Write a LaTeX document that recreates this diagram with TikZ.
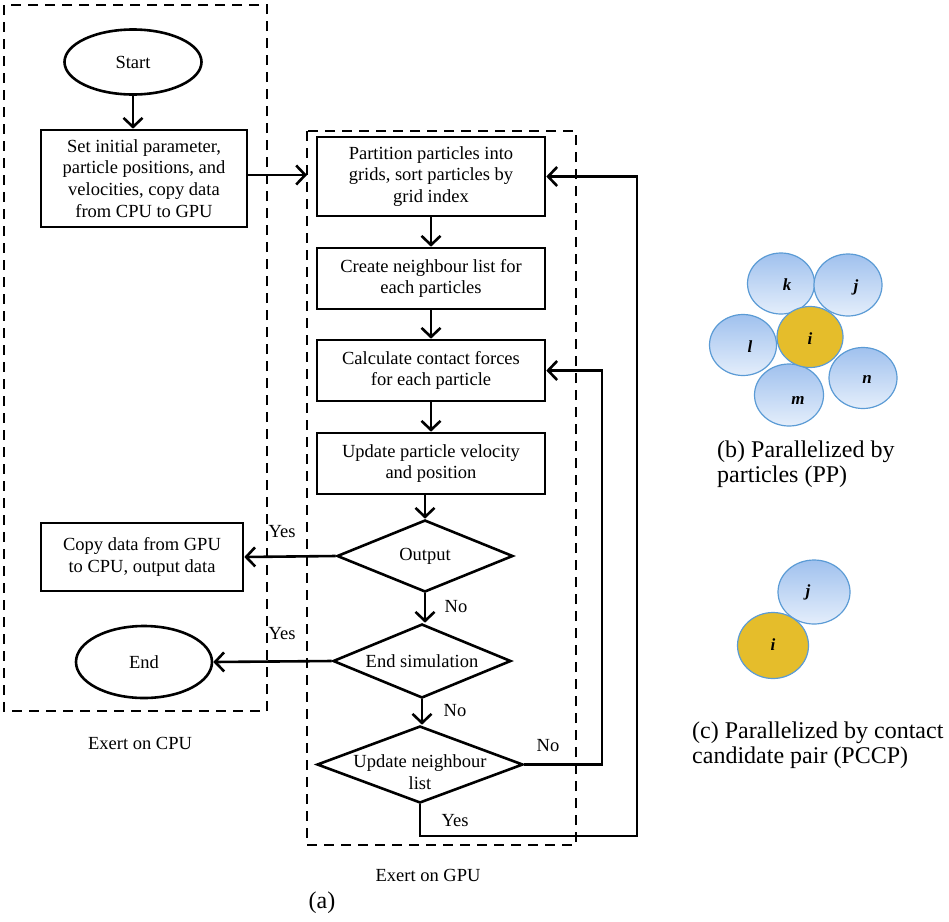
\documentclass[tikz,border=0pt]{standalone}
\usepackage{fontspec}
\setmainfont{Liberation Serif}
\usetikzlibrary{arrows.meta,shapes.geometric,calc}
\definecolor{ballblueT}{RGB}{160,193,238}
\definecolor{ballblueB}{RGB}{228,238,251}
\definecolor{balledge}{RGB}{91,155,213}
\definecolor{ballgold}{RGB}{229,189,43}
\begin{document}
\begin{tikzpicture}[x=1pt,y=-1pt,
  every node/.style={font=\fontsize{18.5}{21.7}\selectfont},
  procbox/.style={draw, line width=2.6pt, rectangle, align=center, inner sep=0pt},
  termnode/.style={draw, line width=2.6pt, ellipse, inner sep=0pt},
  decnode/.style={draw, line width=2.6pt, diamond, inner sep=0pt},
  conn/.style={line width=2.6pt, -{Straight Barb[length=9pt,width=19pt,line width=2.6pt]}},
  zone/.style={draw, line width=2.8pt, dash pattern=on 10pt off 7pt},
  ball/.style={draw=balledge, line width=1.2pt, ellipse, inner sep=0pt, top color=ballblueT, bottom color=ballblueB},
  goldball/.style={draw=balledge, line width=1.2pt, ellipse, inner sep=0pt, fill=ballgold},
  balllabel/.style={font=\fontsize{17}{17}\selectfont\bfseries\itshape, inner sep=0pt},
  captext/.style={font=\fontsize{24}{25}\selectfont, align=left, anchor=west, inner sep=0pt}]
\useasboundingbox (0,0) rectangle (949,921);

% zones
\draw[zone] (4,5) rectangle (267,711);
\draw[zone] (307,131) rectangle (576,845);
\node (cpulab) at (140,743) {Exert on CPU};
\node (gpulab) at (428,875) {Exert on GPU};
\node[font=\fontsize{24}{24}\selectfont] (alab) at (322,903) {(a)};

% CPU side
\node[termnode, minimum width=137pt, minimum height=65pt] (start) at (133,62) {Start};
\node[procbox, minimum width=206pt, minimum height=97pt] (setp) at (144,178.5)
  {Set initial parameter,\\particle positions, and\\velocities, copy data\\from CPU to GPU};
\node[procbox, minimum width=202pt, minimum height=68pt] (copy) at (142,557)
  {Copy data from GPU\\to CPU, output data};
\node[termnode, minimum width=136pt, minimum height=72pt] (endn) at (144,662) {End};

% GPU side
\node[procbox, minimum width=228pt, minimum height=79pt] (part) at (431,176.5)
  {Partition particles into\\grids, sort particles by\\grid index};
\node[procbox, minimum width=228pt, minimum height=61pt] (create) at (431,278.5)
  {Create neighbour list for\\each particles};
\node[procbox, minimum width=228pt, minimum height=61pt] (calc) at (431,370.5)
  {Calculate contact forces\\for each particle};
\node[procbox, minimum width=228pt, minimum height=61pt] (upd) at (431,463.5)
  {Update particle velocity\\and position};
\node[decnode, minimum width=176pt, minimum height=72pt,
  label={center:Output}] (outd) at (425,556) {};
\node[decnode, minimum width=178pt, minimum height=74pt,
  label={center:End simulation}] (endd) at (422,661) {};
\node[decnode, minimum width=206pt, minimum height=77pt,
  label={[align=center,yshift=-8pt]center:Update neighbour\\list}] (unl) at (420,764.5) {};

% connectors
\coordinate (gpuin) at (307,175);
\coordinate (noturn) at (602,764.5);
\coordinate (yesturn) at (637,836);
\draw[conn] (start.south) -- (start.south |- setp.north);
\draw[conn] (setp.east |- gpuin) -- (gpuin);
\draw[conn] (part.south) -- (part.south |- create.north);
\draw[conn] (create.south) -- (create.south |- calc.north);
\draw[conn] (calc.south) -- (calc.south |- upd.north);
\draw[conn] (upd.south -| outd.north) -- (outd.north);
\draw[conn] (outd.south) -- (outd.south |- endd.north);
\draw[conn] (endd.south) -- (endd.south |- unl.north);
\draw[conn] (outd.west) -- (copy.east);
\draw[conn] (endd.west) -- (endn.east);
\draw[conn] (unl.east) -- (noturn) -- (noturn |- calc.east) -- (calc.east);
\draw[conn] (unl.south) -- (unl.south |- yesturn) -- (yesturn) -- (yesturn |- part.east) -- (part.east);

\node (yes1) at (282,532) {Yes};
\node (yes2) at (282,634) {Yes};
\node (no1) at (456,607) {No};
\node (no2) at (455,711) {No};
\node (no3) at (548,746) {No};
\node (yes3) at (455,821) {Yes};

% (b) particles
\node[ball, minimum width=67pt, minimum height=61pt] (bk) at (781,283.5) {};
\node[ball, minimum width=68pt, minimum height=62pt] (bj) at (848,285) {};
\node[ball, minimum width=67pt, minimum height=61pt] (bl) at (743,345) {};
\node[ball, minimum width=68pt, minimum height=61pt] (bn) at (863,378) {};
\node[ball, minimum width=69pt, minimum height=62pt] (bm) at (789,395) {};
\node[goldball, minimum width=66pt, minimum height=61pt] (bi) at (810,337) {};
\node[balllabel] (lk) at (787,285) {k};
\node[balllabel] (lj) at (856,287) {j};
\node[balllabel] (ll) at (750,347) {l};
\node[balllabel] (li) at (810,339) {i};
\node[balllabel] (ln) at (867,379) {n};
\node[balllabel] (lm) at (798,400) {m};
\node[captext] (capb) at (717,464.5) {(b) Parallelized by\\particles (PP)};

% (c) pair
\node[ball, minimum width=72pt, minimum height=64pt] (cj) at (814,592) {};
\node[goldball, minimum width=71pt, minimum height=66pt] (ci) at (773,645.5) {};
\node[balllabel] (lcj) at (808,592) {j};
\node[balllabel] (lci) at (773,645) {i};
\node[captext] (capc) at (692,745.5) {(c) Parallelized by contact\\candidate pair (PCCP)};
\end{tikzpicture}
\end{document}
